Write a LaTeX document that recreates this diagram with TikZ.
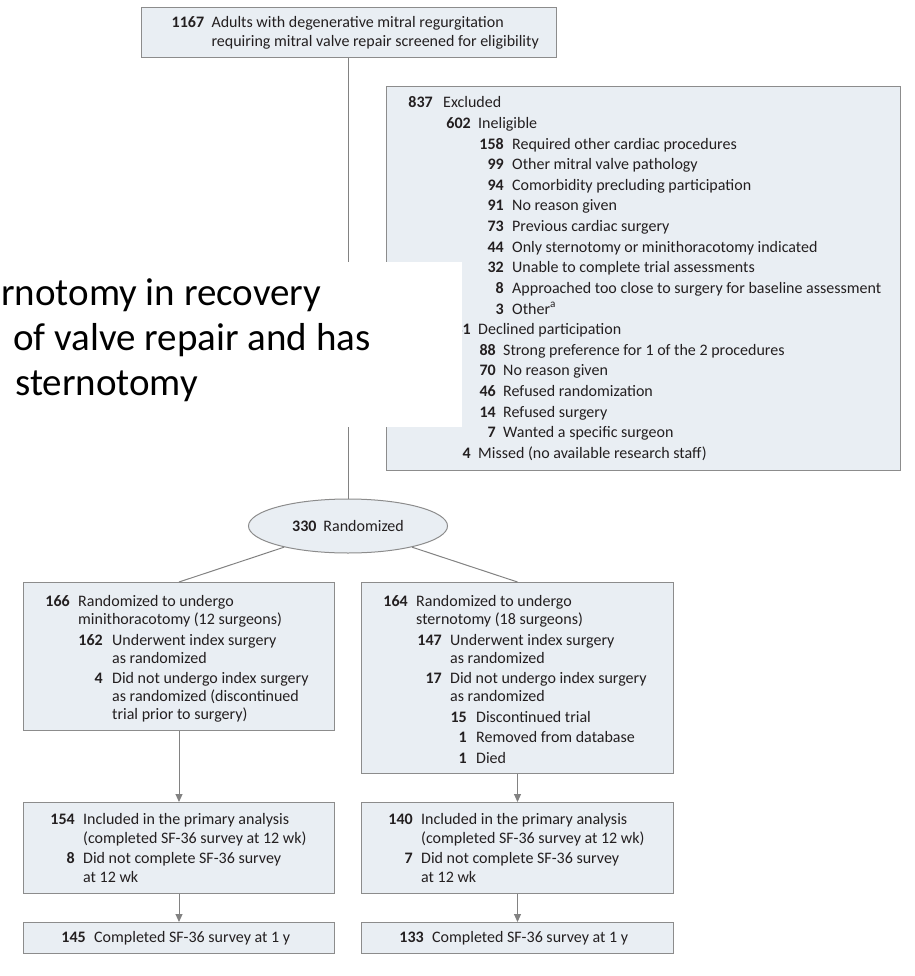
\documentclass[tikz,border=0pt]{standalone}
\usepackage{fontspec}
\setmainfont{Carlito}
\usetikzlibrary{shapes.geometric,arrows.meta}
\definecolor{boxfill}{RGB}{233,238,243}
\definecolor{boxline}{RGB}{140,140,140}
\definecolor{conline}{RGB}{130,130,130}
\definecolor{txt}{RGB}{35,31,32}
\tikzset{
  boxsty/.style={draw=boxline, line width=1pt, fill=boxfill, rectangle, inner sep=0pt, anchor=north west},
  txtsty/.style={inner sep=0pt, text=txt, font=\fontsize{16}{19}\selectfont},
  numsty/.style={inner sep=0pt, text=txt, font=\fontsize{16}{19}\selectfont\bfseries},
  conn/.style={draw=conline, line width=1pt},
  arr/.style={conn, -{Triangle[width=7pt,length=8pt]}},
  overtxt/.style={inner sep=0pt, text=black, font=\fontsize{39}{46}\selectfont, anchor=base west}
}
\newcommand{\nrow}[6]{%
  \node[numsty,anchor=base east] (#1n) at (#2,#4) {#5};
  \node[txtsty,anchor=base west] (#1t) at (#3,#4) {#6};}
\newcommand{\trow}[4]{%
  \node[txtsty,anchor=base west] (#1) at (#2,#3) {#4};}
\begin{document}
\begin{tikzpicture}[x=1pt,y=-1pt]
\useasboundingbox (0,0) rectangle (914,976);
% ---------- boxes ----------
\node[boxsty, minimum width=415pt, minimum height=50pt] (top) at (141,7) {};
\node[boxsty, minimum width=514pt, minimum height=384pt] (excl) at (386,86) {};
\node[ellipse, draw=boxline, line width=1pt, fill=boxfill, minimum width=199pt, minimum height=54pt, inner sep=0pt, text=txt, font=\fontsize{16}{19}\selectfont] (rand) at (348,526) {\textbf{330}\hspace{7pt}Randomized};
\node[boxsty, minimum width=311pt, minimum height=148pt] (lb1) at (23,582) {};
\node[boxsty, minimum width=312pt, minimum height=191pt] (rb1) at (361,582) {};
\node[boxsty, minimum width=311pt, minimum height=91pt] (lb2) at (23,802) {};
\node[boxsty, minimum width=312pt, minimum height=91pt] (rb2) at (361,802) {};
\node[boxsty, minimum width=311pt, minimum height=31pt] (lb3) at (23,922) {};
\node[boxsty, minimum width=312pt, minimum height=31pt] (rb3) at (361,922) {};
% ---------- connectors ----------
\draw[conn] (top.south -| rand.north) -- (rand.north);
\draw[conn] (rand) -- (lb1.north);
\draw[conn] (rand) -- (rb1.north);
\draw[arr] (lb1.south) -- (lb2.north);
\draw[arr] (rb1.south) -- (rb2.north);
\draw[arr] (lb2.south) -- (lb3.north);
\draw[arr] (rb2.south) -- (rb3.north);
% ---------- top box text ----------
\node[txtsty,anchor=base east] (top2) at (539,47) {requiring mitral valve repair screened for eligibility};
\coordinate (yl1) at (0,28);
\node[txtsty,anchor=base west] (top1t) at (top2.base west |- yl1) {Adults with degenerative mitral regurgitation};
\node[numsty,anchor=base east] (top1n) at ([xshift=-7pt]top1t.base west) {1167};
% ---------- excluded box text ----------
\nrow{exa}{433}{443}{108}{837}{Excluded}
\nrow{exb}{471}{478}{128.6}{602}{Ineligible}
\nrow{exc}{504}{512}{149.2}{158}{Required other cardiac procedures}
\nrow{exd}{504}{512}{169.8}{99}{Other mitral valve pathology}
\nrow{exe}{504}{512}{190.4}{94}{Comorbidity precluding participation}
\nrow{exf}{504}{512}{211.0}{91}{No reason given}
\nrow{exg}{504}{512}{231.6}{73}{Previous cardiac surgery}
\nrow{exh}{504}{512}{252.2}{44}{Only sternotomy or minithoracotomy indicated}
\nrow{exi}{504}{512}{272.8}{32}{Unable to complete trial assessments}
\nrow{exj}{504}{512}{293.4}{8}{Approached too close to surgery for baseline assessment}
\nrow{exk}{504}{512}{314.0}{3}{Other\textsuperscript{a}}
\nrow{exl}{471}{478}{334.6}{231}{Declined participation}
\nrow{exm}{496}{503}{355.2}{88}{Strong preference for 1 of the 2 procedures}
\nrow{exn}{496}{503}{375.8}{70}{No reason given}
\nrow{exo}{496}{503}{396.4}{46}{Refused randomization}
\nrow{exp}{496}{503}{417.0}{14}{Refused surgery}
\nrow{exq}{496}{503}{437.6}{7}{Wanted a specific surgeon}
\nrow{exr}{471}{478}{458.2}{4}{Missed (no available research staff)}
% ---------- left arm ----------
\nrow{la}{70}{78}{606}{166}{Randomized to undergo}
\trow{lat}{78}{624}{minithoracotomy (12 surgeons)}
\nrow{lb}{103}{112}{645}{162}{Underwent index surgery}
\trow{lbt}{112}{663}{as randomized}
\nrow{lc}{103}{112}{683}{4}{Did not undergo index surgery}
\trow{lct}{112}{701}{as randomized (discontinued}
\trow{lcu}{112}{719}{trial prior to surgery)}
\nrow{ld}{75}{83}{824}{154}{Included in the primary analysis}
\trow{ldt}{83}{843}{(completed SF-36 survey at 12 wk)}
\nrow{le}{75}{83}{863}{8}{Did not complete SF-36 survey}
\trow{let}{83}{882}{at 12 wk}
\nrow{lf}{86}{94}{942}{145}{Completed SF-36 survey at 1 y}
% ---------- right arm ----------
\nrow{ra}{408}{416}{606}{164}{Randomized to undergo}
\trow{rat}{416}{624}{sternotomy (18 surgeons)}
\nrow{rb}{442}{450}{645}{147}{Underwent index surgery}
\trow{rbt}{450}{663}{as randomized}
\nrow{rc}{442}{450}{683}{17}{Did not undergo index surgery}
\trow{rct}{450}{701}{as randomized}
\nrow{rd}{467}{476}{722}{15}{Discontinued trial}
\nrow{re}{467}{476}{742}{1}{Removed from database}
\nrow{rf}{467}{476}{763}{1}{Died}
\nrow{rg}{413}{421}{824}{140}{Included in the primary analysis}
\trow{rgt}{421}{843}{(completed SF-36 survey at 12 wk)}
\nrow{rh}{413}{421}{863}{7}{Did not complete SF-36 survey}
\trow{rht}{421}{882}{at 12 wk}
\nrow{ri}{424}{432}{942}{133}{Completed SF-36 survey at 1 y}
% ---------- overlay ----------
\node[fill=white, inner sep=0pt, minimum width=462pt, minimum height=165pt, anchor=north west] (ovl) at (0,262) {};
\node[overtxt] (ov1) at (1,305) {rnotomy in recovery};
\node[overtxt] (ov2) at (13,350) {of valve repair and has};
\node[overtxt] (ov3) at (15,395) {sternotomy};
\end{tikzpicture}
\end{document}
